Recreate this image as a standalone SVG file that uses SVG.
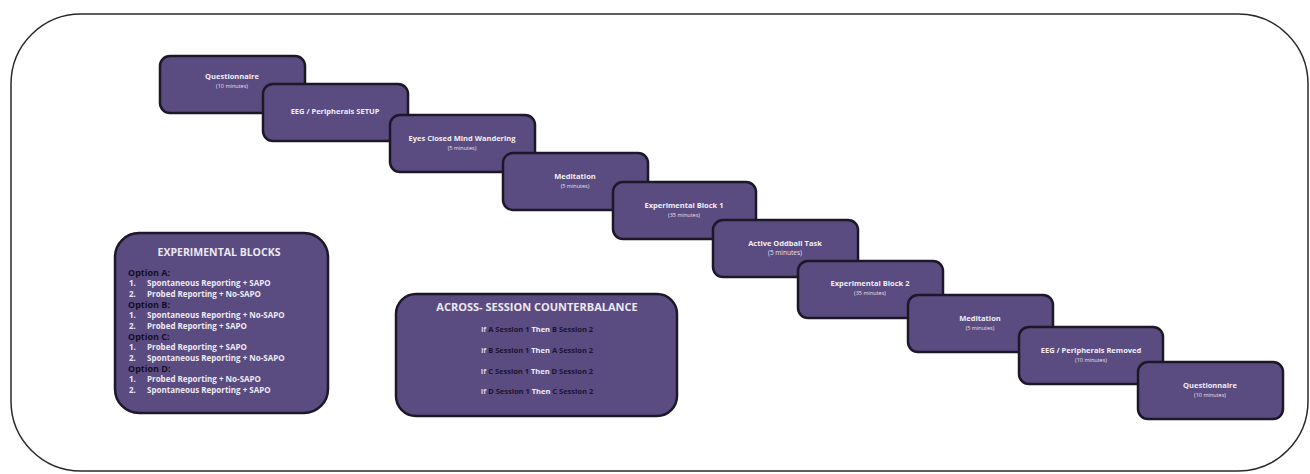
<svg xmlns="http://www.w3.org/2000/svg" width="1310" height="474" viewBox="0 0 1310 474">
  <style>
    .step rect { fill: #5a4b80; stroke: #1c1828; stroke-width: 2.5; }
    .panel { fill: #5a4b80; stroke: #1c1828; stroke-width: 2.5; }
    text { font-family: "Open Sans", "Liberation Sans", sans-serif; font-weight: bold; text-anchor: middle; }
    .t { fill: #f1eef7; font-size: 7.5px; }
    .s { fill: #e6e2ee; font-size: 5.5px; font-weight: normal; }
    .h { fill: #ece9f3; font-size: 10.5px; }
    .opt { fill: #141026; font-size: 9px; text-anchor: start; }
    .li { fill: #ece9f3; font-size: 8px; text-anchor: start; }
    .cb { font-size: 7.5px; fill: #1a1530; }
    .w { fill: #f1eef7; }
    .g { fill: #d8d4e2; }
  </style>

  <!-- outer frame -->
  <rect x="11" y="14" width="1297" height="457" rx="70" ry="70" fill="#ffffff" stroke="#2a2a2a" stroke-width="1.5"/>

  <!-- protocol steps, drawn in order so each overlaps the previous -->
  <g id="step1" class="step"><rect x="160" y="56" width="145" height="57" rx="10"/><text class="t" x="232" y="79">Questionnaire</text><text class="s" x="232" y="88">(10 minutes)</text></g>
  <g id="step2" class="step"><rect x="263" y="84" width="145" height="57" rx="10"/><text class="t" x="335" y="114">EEG / Peripherals SETUP</text></g>
  <g id="step3" class="step"><rect x="390" y="115" width="145" height="57" rx="10"/><text class="t" x="462" y="141">Eyes Closed Mind Wandering</text><text class="s" x="462" y="150">(5 minutes)</text></g>
  <g id="step4" class="step"><rect x="503" y="153" width="145" height="57" rx="10"/><text class="t" x="575" y="179">Meditation</text><text class="s" x="575" y="188">(5 minutes)</text></g>
  <g id="step5" class="step"><rect x="613" y="182" width="143" height="57" rx="10"/><text class="t" x="684" y="208">Experimental Block 1</text><text class="s" x="684" y="217">(35 minutes)</text></g>
  <g id="step6" class="step"><rect x="713" y="220" width="145" height="57" rx="10"/><text class="t" x="785" y="246">Active Oddball Task</text><text class="s" x="785" y="255" style="font-size:6.5px">(5 minutes)</text></g>
  <g id="step7" class="step"><rect x="798" y="261" width="145" height="57" rx="10"/><text class="t" x="870" y="286">Experimental Block 2</text><text class="s" x="870" y="295">(35 minutes)</text></g>
  <g id="step8" class="step"><rect x="908" y="295" width="145" height="57" rx="10"/><text class="t" x="980" y="321">Meditation</text><text class="s" x="980" y="330">(5 minutes)</text></g>
  <g id="step9" class="step"><rect x="1019" y="327" width="144" height="57" rx="10"/><text class="t" x="1091" y="353">EEG / Peripherals Removed</text><text class="s" x="1091" y="362">(10 minutes)</text></g>
  <g id="step10" class="step"><rect x="1138" y="362" width="145" height="57" rx="10"/><text class="t" x="1210" y="388">Questionnaire</text><text class="s" x="1210" y="397">(10 minutes)</text></g>

  <!-- block options -->
  <g id="experimental-blocks">
    <rect class="panel" x="115" y="233" width="213" height="180" rx="24"/>
    <text class="h" x="219" y="256">EXPERIMENTAL BLOCKS</text>
    <text class="opt" x="128" y="276">Option A:</text>
    <text class="li" x="129" y="286">1.</text><text class="li" x="147" y="286">Spontaneous Reporting + SAPO</text>
    <text class="li" x="129" y="297">2.</text><text class="li" x="147" y="297">Probed Reporting + No-SAPO</text>
    <text class="opt" x="128" y="308">Option B:</text>
    <text class="li" x="129" y="318">1.</text><text class="li" x="147" y="318">Spontaneous Reporting + No-SAPO</text>
    <text class="li" x="129" y="329">2.</text><text class="li" x="147" y="329">Probed Reporting + SAPO</text>
    <text class="opt" x="128" y="340">Option C:</text>
    <text class="li" x="129" y="350">1.</text><text class="li" x="147" y="350">Probed Reporting + SAPO</text>
    <text class="li" x="129" y="361">2.</text><text class="li" x="147" y="361">Spontaneous Reporting + No-SAPO</text>
    <text class="opt" x="128" y="372">Option D:</text>
    <text class="li" x="129" y="382">1.</text><text class="li" x="147" y="382">Probed Reporting + No-SAPO</text>
    <text class="li" x="129" y="393">2.</text><text class="li" x="147" y="393">Spontaneous Reporting + SAPO</text>
  </g>

  <!-- session counterbalance -->
  <g id="counterbalance">
    <rect class="panel" x="396" y="294" width="281" height="122" rx="20"/>
    <text class="h" x="537" y="311" style="font-size:11px">ACROSS- SESSION COUNTERBALANCE</text>
    <text class="cb" x="537" y="332"><tspan class="g">If </tspan>A Session 1 <tspan class="w">Then </tspan>B Session 2</text>
    <text class="cb" x="537" y="353"><tspan class="g">If </tspan>B Session 1 <tspan class="w">Then </tspan>A Session 2</text>
    <text class="cb" x="537" y="374"><tspan class="g">If </tspan>C Session 1 <tspan class="w">Then </tspan>D Session 2</text>
    <text class="cb" x="537" y="394"><tspan class="g">If </tspan>D Session 1 <tspan class="w">Then </tspan>C Session 2</text>
  </g>

  <g id="connectors"/>
</svg>
